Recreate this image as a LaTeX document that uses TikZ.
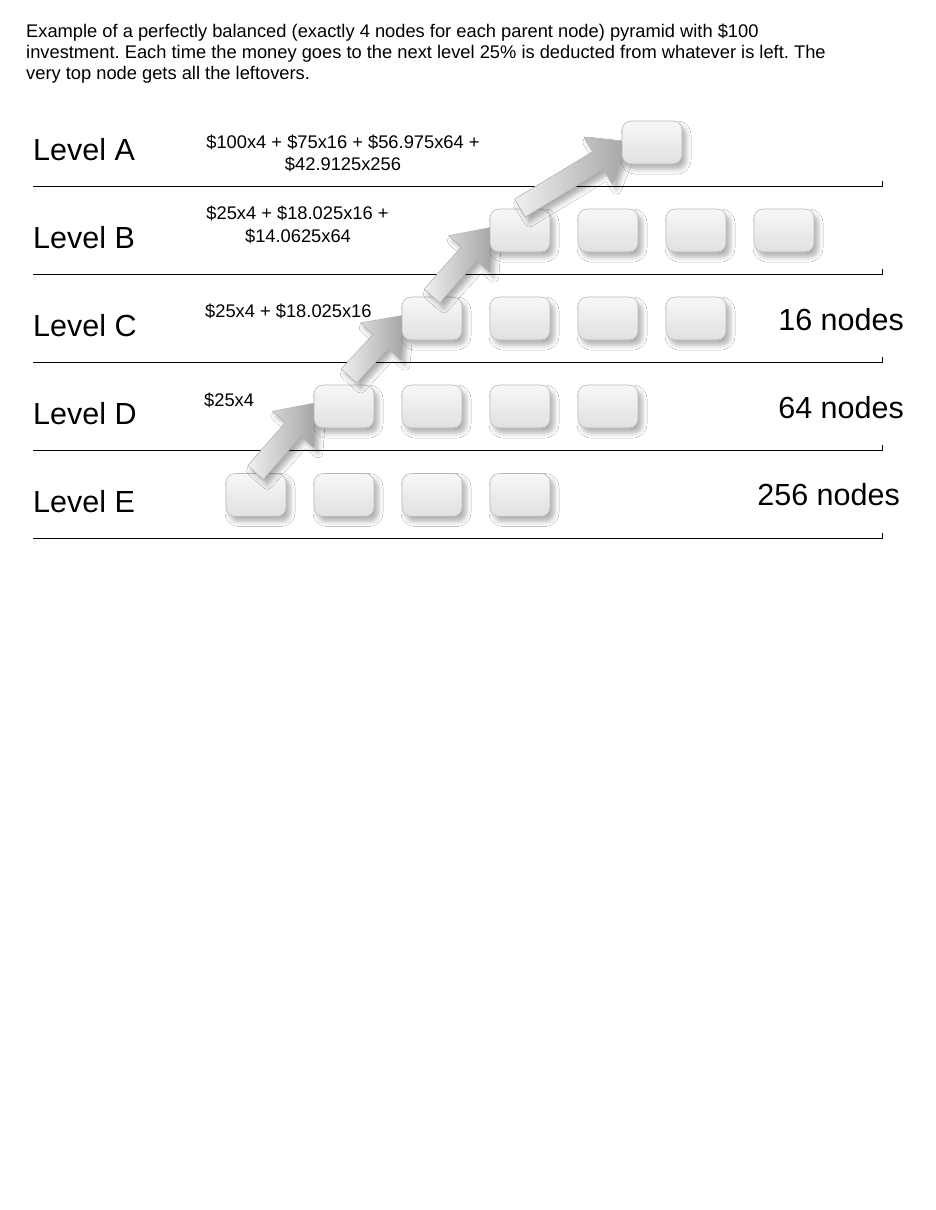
\documentclass[tikz,border=0pt]{standalone}
\usepackage{fontspec}
\setmainfont{Liberation Sans}
\usetikzlibrary{calc,shadows,shadows.blur}
\tikzset{
  nbox/.style={rounded corners=9pt, minimum width=60pt, minimum height=43pt, inner sep=0pt,
    draw=black!28, line width=0.6pt, top color=black!3, bottom color=black!12,
    blur shadow={shadow xshift=4pt, shadow yshift=-5pt, shadow blur radius=5pt, shadow opacity=32}},
  fatarr/.style={draw=black!32, line width=0.5pt, left color=black!6, right color=black!36,
    blur shadow={shadow xshift=4pt, shadow yshift=-5pt, shadow blur radius=5pt, shadow opacity=32}},
  rule/.style={draw=black, line width=0.8pt},
  lvl/.style={font=\fontsize{30.5}{34}\selectfont, inner sep=0pt},
  cnt/.style={font=\fontsize{30.5}{34}\selectfont, inner sep=0pt, anchor=base east},
  frm/.style={font=\fontsize{18.3}{21}\selectfont, inner sep=0pt},
  intro/.style={font=\fontsize{18.3}{21}\selectfont, inner sep=0pt, anchor=base west}
}
\newcommand\fatarrow[2]{%
  \coordinate (fh) at ($(#2)!36pt!(#1)$);
  \path[fatarr] ($(#1)!10.5pt!90:(#2)$) -- ($(fh)!10.5pt!90:(#2)$) -- ($(fh)!27.5pt!90:(#2)$) -- (#2)
    -- ($(fh)!27.5pt!-90:(#2)$) -- ($(fh)!10.5pt!-90:(#2)$) -- ($(#1)!10.5pt!-90:(#2)$) -- cycle;}
\frenchspacing
\begin{document}
\begin{tikzpicture}[x=1pt,y=-1pt]
\useasboundingbox[fill=white] (0,0) rectangle (935,1210);

% intro text
\node[intro] (t1) at (26,37) {Example of a perfectly balanced (exactly 4 nodes for each parent node) pyramid with \$100};
\node[intro] (t2) at (26,58) {investment. Each time the money goes to the next level 25\% is deducted from whatever is left. The};
\node[intro] (t3) at (26,79) {very top node gets all the leftovers.};

% rules
\foreach \n/\y in {A/186,B/274,C/362,D/450,E/538}{
  \coordinate (r\n1) at (33,\y);
  \coordinate (r\n2) at (882,\y);
  \draw[rule] (r\n1) -- (r\n2) -- ++(0,-5);
}

% level labels
\node[lvl, anchor=base west] (lA) at (33,160) {Level A};
\node[lvl, anchor=base west] (lB) at (33,248) {Level B};
\node[lvl, anchor=base west] (lC) at (33,336) {Level C};
\node[lvl, anchor=base west] (lD) at (33,424) {Level D};
\node[lvl, anchor=base west] (lE) at (33,512) {Level E};

% formulas
\node[frm, anchor=base] (fA1) at (343,148.5) {\$100x4 + \$75x16 + \$56.975x64 +};
\node[frm, anchor=base] (fA2) at (343,170) {\$42.9125x256};
\node[frm, anchor=base] (fB1) at (297.5,219.5) {\$25x4 + \$18.025x16 +};
\node[frm, anchor=base] (fB2) at (298,242) {\$14.0625x64};
\node[frm, anchor=base west] (fC) at (205,317) {\$25x4 + \$18.025x16};
\node[frm, anchor=base west] (fD) at (204,406) {\$25x4};

% counts
\node[cnt] (cC) at (904,330) {16 nodes};
\node[cnt] (cD) at (904,418) {64 nodes};
\node[cnt] (cE) at (900,505) {256 nodes};

% arrow endpoints
\coordinate (a1t) at (255.5,472.5); \coordinate (a1h) at (317,402.5);
\coordinate (a2t) at (349,376);     \coordinate (a2h) at (405,315);
\coordinate (a3t) at (432,296);     \coordinate (a3h) at (493,227);
\coordinate (a4t) at (520,208);     \coordinate (a4h) at (629,142);

% level E
\foreach \i/\x in {1/256,2/344,3/432,4/520}{\node[nbox] (E\i) at (\x,495) {};}
\fatarrow{a1t}{a1h}
% level D
\foreach \i/\x in {1/344,2/432,3/520,4/608}{\node[nbox] (D\i) at (\x,406.5) {};}
\fatarrow{a2t}{a2h}
% level C
\foreach \i/\x in {1/432,2/520,3/608,4/696}{\node[nbox] (C\i) at (\x,318.5) {};}
\fatarrow{a3t}{a3h}
% level B
\foreach \i/\x in {1/520,2/608,3/696,4/784}{\node[nbox] (B\i) at (\x,230.5) {};}
\fatarrow{a4t}{a4h}
% level A
\node[nbox] (A1) at (652,142.5) {};
\end{tikzpicture}
\end{document}
